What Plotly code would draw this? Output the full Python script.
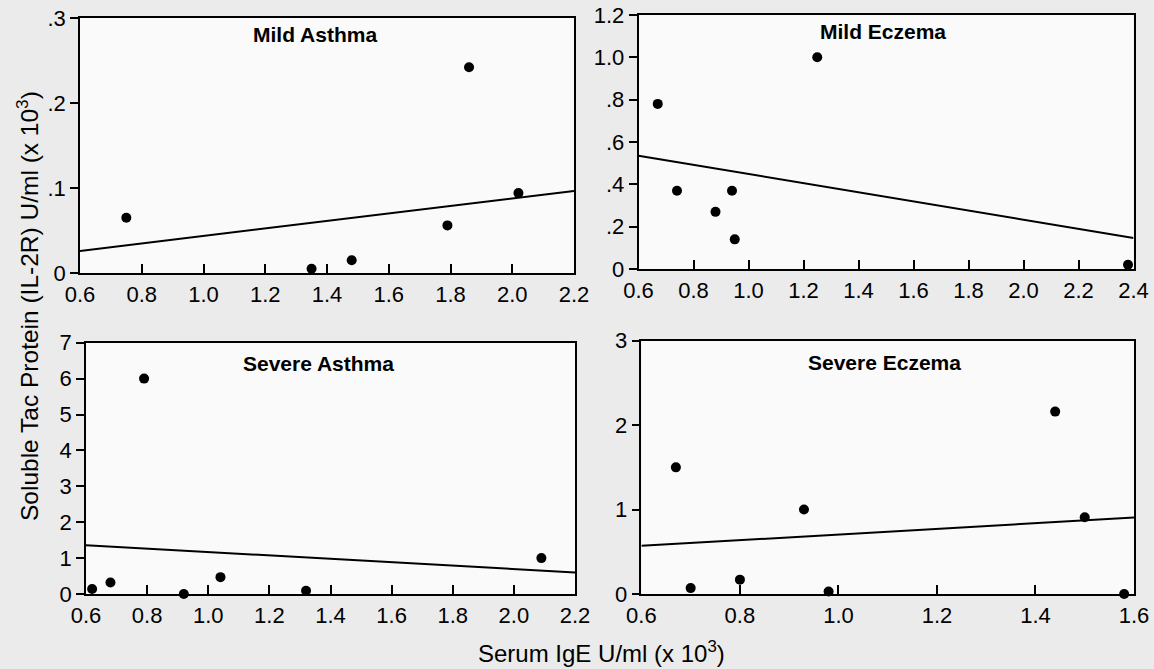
import numpy as np
import plotly.graph_objects as go

# ---- data ----
mild_asthma_x = [0.75, 1.35, 1.48, 1.79, 1.86, 2.02]
mild_asthma_y = [0.065, 0.005, 0.015, 0.056, 0.242, 0.094]
mild_asthma_fit = [-0.0005, 0.0441]          # intercept, slope

mild_eczema_x = [0.67, 0.74, 0.88, 0.94, 0.95, 1.25, 2.38]
mild_eczema_y = [0.78, 0.37, 0.27, 0.37, 0.14, 1.00, 0.02]
mild_eczema_fit = [0.665, -0.216]

severe_asthma_x = [0.62, 0.68, 0.79, 0.92, 1.04, 1.32, 2.09]
severe_asthma_y = [0.14, 0.32, 6.0, 0.0, 0.47, 0.09, 1.0]
severe_asthma_fit = [1.645, -0.475]

severe_eczema_x = [0.67, 0.70, 0.80, 0.93, 0.98, 1.44, 1.50, 1.58]
severe_eczema_y = [1.50, 0.07, 0.17, 1.00, 0.03, 2.16, 0.91, 0.0]
severe_eczema_fit = [0.369, 0.335]

x_ticks_asthma = [0.6, 0.8, 1.0, 1.2, 1.4, 1.6, 1.8, 2.0, 2.2]
x_ticks_mild_eczema = [0.6, 0.8, 1.0, 1.2, 1.4, 1.6, 1.8, 2.0, 2.2, 2.4]
x_ticks_severe_eczema = [0.6, 0.8, 1.0, 1.2, 1.4, 1.6]

y_ticks_mild_asthma = [0, 0.1, 0.2, 0.3]
y_text_mild_asthma = ["0", ".1", ".2", ".3"]
y_ticks_mild_eczema = [0, 0.2, 0.4, 0.6, 0.8, 1.0, 1.2]
y_text_mild_eczema = ["0", ".2", ".4", ".6", ".8", "1.0", "1.2"]
y_ticks_severe_asthma = [0, 1, 2, 3, 4, 5, 6, 7]
y_ticks_severe_eczema = [0, 1, 2, 3]

titles = ["Mild Asthma", "Mild Eczema", "Severe Asthma", "Severe Eczema"]
x_title = "Serum IgE U/ml (x 10<sup>3</sup>)"
y_title = "Soluble Tac Protein (IL-2R) U/ml (x 10<sup>3</sup>)"

FONT = "Liberation Sans, Arial, Helvetica, sans-serif"

panels = [
    dict(x=mild_asthma_x, y=mild_asthma_y, fit=mild_asthma_fit,
         xt=x_ticks_asthma, yt=y_ticks_mild_asthma, ytt=y_text_mild_asthma,
         dx=[80/1154, 574/1154], dy=[1-273/669, 1-18/669],
         title_pos=(315, 35)),
    dict(x=mild_eczema_x, y=mild_eczema_y, fit=mild_eczema_fit,
         xt=x_ticks_mild_eczema, yt=y_ticks_mild_eczema, ytt=y_text_mild_eczema,
         dx=[638.5/1154, 1133.5/1154], dy=[1-269/669, 1-15/669],
         title_pos=(883, 32)),
    dict(x=severe_asthma_x, y=severe_asthma_y, fit=severe_asthma_fit,
         xt=x_ticks_asthma, yt=y_ticks_severe_asthma,
         ytt=[str(v) for v in y_ticks_severe_asthma],
         dx=[86/1154, 575/1154], dy=[1-594/669, 1-342.7/669],
         title_pos=(318, 363)),
    dict(x=severe_eczema_x, y=severe_eczema_y, fit=severe_eczema_fit,
         xt=x_ticks_severe_eczema, yt=y_ticks_severe_eczema,
         ytt=[str(v) for v in y_ticks_severe_eczema],
         dx=[641.4/1154, 1134/1154], dy=[1-594/669, 1-340.7/669],
         title_pos=(884, 362)),
]

fig = go.Figure()
layout = {}
annotations = []

for i, p in enumerate(panels):
    n = "" if i == 0 else str(i + 1)
    xa, ya = "x" + n, "y" + n
    xr = [p["xt"][0], p["xt"][-1]]
    yr = [p["yt"][0], p["yt"][-1]]
    # regression line across the axis range
    lx = np.array(xr)
    ly = p["fit"][0] + p["fit"][1] * lx
    fig.add_trace(go.Scatter(x=lx, y=ly, mode="lines", xaxis=xa, yaxis=ya,
                             line=dict(color="black", width=2),
                             showlegend=False, hoverinfo="skip"))
    fig.add_trace(go.Scatter(x=p["x"], y=p["y"], mode="markers", xaxis=xa, yaxis=ya,
                             marker=dict(color="black", size=10),
                             cliponaxis=False, showlegend=False))
    layout["xaxis" + n] = dict(
        domain=p["dx"], anchor=ya, range=xr, automargin=False,
        tickmode="array", tickvals=p["xt"], ticktext=[f"{v:.1f}" for v in p["xt"]],
        ticks="inside", ticklen=9, tickwidth=1.6, tickcolor="black",
        showline=True, linecolor="black", linewidth=1.6, mirror=True,
        showgrid=False, zeroline=False,
        tickfont=dict(family=FONT, size=22, color="black"),
        ticklabelstandoff=1,
    )
    layout["yaxis" + n] = dict(
        domain=p["dy"], anchor=xa, range=yr, automargin=False,
        tickmode="array", tickvals=p["yt"], ticktext=p["ytt"],
        ticks="outside", ticklen=8, tickwidth=1.6, tickcolor="black",
        showline=True, linecolor="black", linewidth=1.6, mirror=True,
        showgrid=False, zeroline=False,
        tickfont=dict(family=FONT, size=22, color="black"),
    )
    tx, ty = p["title_pos"]
    annotations.append(dict(text="<b>" + titles[i] + "</b>", x=tx / 1154, y=1 - ty / 669,
                            xref="paper", yref="paper", showarrow=False,
                            xanchor="center", yanchor="middle",
                            font=dict(family=FONT, size=21, color="black")))

annotations.append(dict(text=x_title, x=601 / 1154, y=1 - 652 / 669,
                        xref="paper", yref="paper", showarrow=False,
                        xanchor="center", yanchor="middle",
                        font=dict(family=FONT, size=24, color="black")))
annotations.append(dict(text=y_title, x=27 / 1154, y=1 - 306 / 669,
                        xref="paper", yref="paper", showarrow=False, textangle=-90,
                        xanchor="center", yanchor="middle",
                        font=dict(family=FONT, size=24.5, color="black")))

fig.update_layout(
    width=1154, height=669,
    margin=dict(l=0, r=0, t=0, b=0, pad=0, autoexpand=False),
    paper_bgcolor="#ebebeb",
    plot_bgcolor="#fafafa",
    annotations=annotations,
    showlegend=False,
    **layout,
)

fig.write_html(
    "out.html",
    config={"displayModeBar": False},
    post_script="document.body.style.margin='0';document.body.style.overflow='hidden';",
)
